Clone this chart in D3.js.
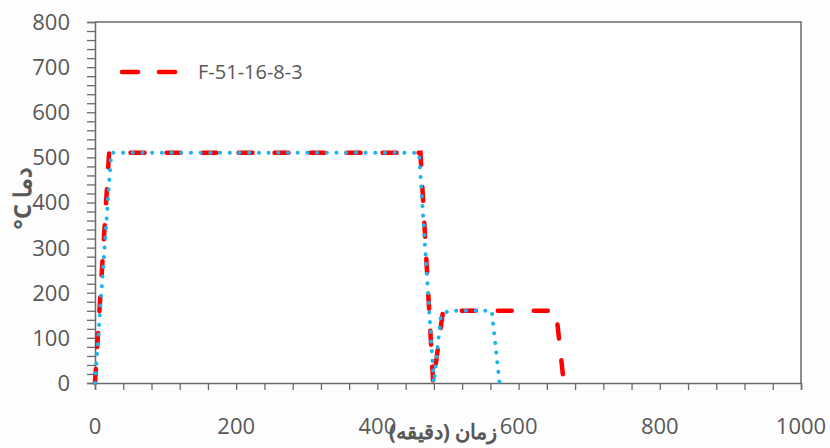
<!DOCTYPE html>
<html>
<head>
<meta charset="utf-8">
<script src="https://cdn.jsdelivr.net/npm/d3@7"></script>
<style>
  html, body { margin: 0; padding: 0; background: #fdfdfd; }
  #chart { width: 830px; height: 448px; }
</style>
</head>
<body>
<div id="chart"></div>
<script>
// temp vs time, two runs, one dashed red one dotted blue

const seriesName = "F-51-16-8-3";

// red dashed run
const redTime = [0, 20, 461, 479, 493, 653, 664];
const redTemp = [0, 510, 510, 0, 160, 160, 0];

// blue dotted run (no legend entry)
const blueTime = [0, 23, 459, 480, 490, 501, 562, 573];
const blueTemp = [0, 510, 510, 0, 150, 160, 160, 0];

const xTicks = [0, 200, 400, 600, 800, 1000];
const yTicks = [0, 100, 200, 300, 400, 500, 600, 700, 800];

const xTitle = "زمان (دقیقه)";
const yTitle = "°C دما";

const W = 830, H = 448;
const margin = { top: 22, right: 29, bottom: 65, left: 95 };

const svg = d3.select("#chart").append("svg")
  .attr("width", W)
  .attr("height", H)
  .style("font-family", "'Open Sans', 'Noto Sans', sans-serif");

const x = d3.scaleLinear().domain([0, 1000]).range([margin.left, W - margin.right]);
const y = d3.scaleLinear().domain([0, 800]).range([H - margin.bottom, margin.top]);

const axisCol = "#6a6a6a";
const txtCol = "#585858";

// plot bg
svg.append("rect")
  .attr("x", x(0)).attr("y", y(800))
  .attr("width", x(1000) - x(0)).attr("height", y(0) - y(800))
  .attr("fill", "#ffffff");

// frame top + right
svg.append("path")
  .attr("d", `M${x(0)},${y(800)}H${x(1000)}V${y(0)}`)
  .attr("fill", "none")
  .attr("stroke", axisCol)
  .attr("stroke-width", 1.5);

// x axis, minor ticks every 40
const xAx = svg.append("g")
  .attr("transform", `translate(0,${y(0)})`)
  .call(d3.axisBottom(x).tickValues(d3.range(0, 1001, 40)).tickSize(7).tickFormat(""));
xAx.select(".domain").attr("stroke", axisCol).attr("stroke-width", 1.5);
xAx.selectAll(".tick line").attr("stroke", axisCol).attr("stroke-width", 1.3);

svg.append("g").selectAll("text")
  .data(xTicks)
  .join("text")
  .attr("x", d => x(d))
  .attr("y", y(0) + 51)
  .attr("text-anchor", "middle")
  .attr("fill", txtCol)
  .attr("font-size", 22)
  .attr("font-weight", 500)
  .text(d => d);

// y axis, ticks every 20
const yAx = svg.append("g")
  .attr("transform", `translate(${x(0)},0)`)
  .call(d3.axisLeft(y).tickValues(d3.range(0, 801, 20)).tickSize(8).tickFormat(""));
yAx.select(".domain").attr("stroke", axisCol).attr("stroke-width", 1.5);
yAx.selectAll(".tick line").attr("stroke", axisCol).attr("stroke-width", 1.3);

svg.append("g").selectAll("text")
  .data(yTicks)
  .join("text")
  .attr("x", 70)
  .attr("y", d => y(d))
  .attr("dy", "0.36em")
  .attr("text-anchor", "end")
  .attr("fill", txtCol)
  .attr("font-size", 22)
  .attr("font-weight", 500)
  .text(d => d);

// titles, x title sits on top of the 400 label like in the original
svg.append("text")
  .attr("x", 443)
  .attr("y", 439)
  .attr("direction", "rtl")
  .attr("text-anchor", "middle")
  .attr("fill", txtCol)
  .attr("font-size", 21)
  .attr("font-weight", 700)
  .text(xTitle);

svg.append("text")
  .attr("transform", `translate(31,198) rotate(-90)`)
  .attr("text-anchor", "middle")
  .attr("fill", txtCol)
  .attr("font-size", 24)
  .attr("font-weight", 700)
  .text(yTitle);

// lines
const line = d3.line().x(d => x(d[0])).y(d => y(d[1]));

const redPts = redTime.map((t, i) => [t, redTemp[i]]);
const bluePts = blueTime.map((t, i) => [t, blueTemp[i]]);

svg.append("path")
  .datum(redPts)
  .attr("d", line)
  .attr("fill", "none")
  .attr("stroke", "#ff0000")
  .attr("stroke-width", 4.5)
  .attr("stroke-linecap", "round")
  .attr("stroke-dasharray", "14,22");

svg.append("path")
  .datum(bluePts)
  .attr("d", line)
  .attr("fill", "none")
  .attr("stroke", "#1fb2ee")
  .attr("stroke-width", 4)
  .attr("stroke-linecap", "round")
  .attr("stroke-dasharray", "0.1,9.6");

// legend, only red
const leg = svg.append("g").attr("transform", "translate(120,72)");
leg.append("line")
  .attr("x1", 2).attr("x2", 57)
  .attr("stroke", "#ff0000")
  .attr("stroke-width", 4.5)
  .attr("stroke-linecap", "round")
  .attr("stroke-dasharray", "16,21");
leg.append("text")
  .attr("x", 78)
  .attr("dy", "0.36em")
  .attr("fill", txtCol)
  .attr("font-size", 20)
  .attr("font-weight", 500)
  .text(seriesName);
</script>
</body>
</html>
